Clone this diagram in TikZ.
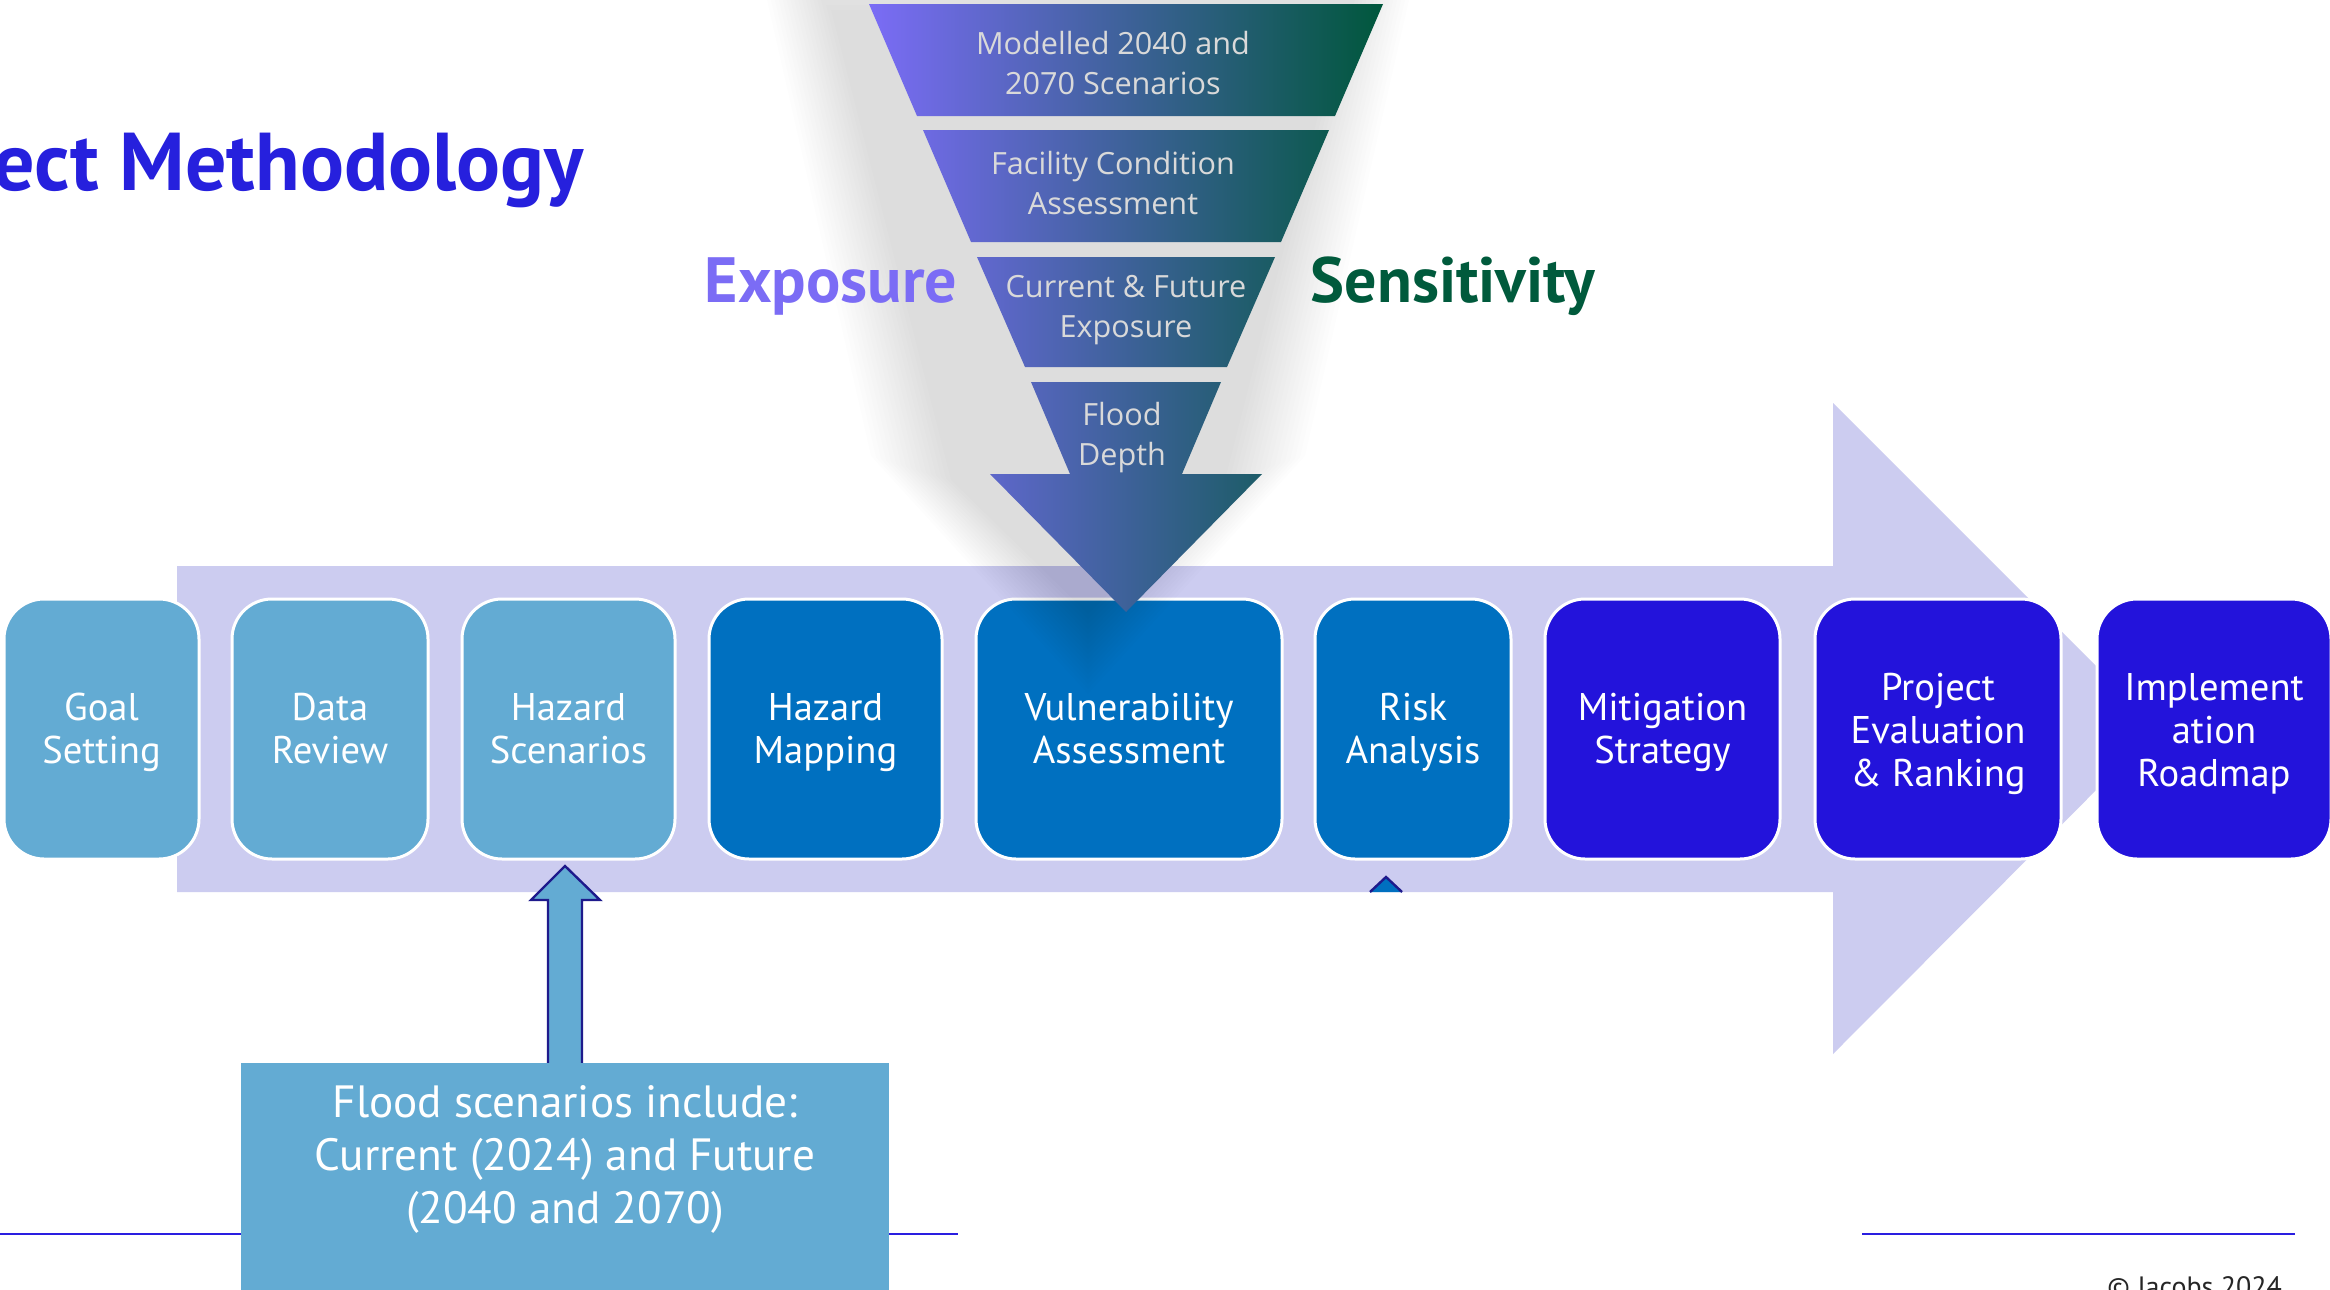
\documentclass[tikz,border=0pt]{standalone}
\usepackage{fontspec}
\setmainfont{PT Sans}
\newfontfamily\funnelfont{Open Sans}
\definecolor{lb}{HTML}{63ABD3}
\definecolor{mb}{HTML}{0070C0}
\definecolor{db}{HTML}{2313DB}
\definecolor{bandc}{HTML}{CCCCF0}
\definecolor{titleblue}{HTML}{2620DD}
\definecolor{expo}{HTML}{7B6CF5}
\definecolor{sens}{HTML}{005A3C}
\definecolor{fl}{HTML}{7B6CF6}
\definecolor{fr}{HTML}{00573C}
\definecolor{ftext}{HTML}{D9D9D9}
\definecolor{navy}{HTML}{1E1A8C}
\definecolor{rulec}{HTML}{2A1EE0}
\begin{document}
\begin{tikzpicture}[x=0.5pt,y=-0.5pt,
  stepbox/.style={draw=white, line width=1.5pt, rounded corners=20pt, inner sep=0pt, minimum height=130pt},
  steptext/.style={text=white, align=center, font=\fontsize{19.3}{21.5}\selectfont, inner sep=0pt},
  funneltext/.style={text=ftext, align=center, font=\funnelfont\fontsize{15.3}{20}\selectfont, inner sep=0pt},
  sidelabel/.style={font=\bfseries\fontsize{32}{34}\selectfont, inner sep=0pt},
  rulestyle/.style={draw=rulec, line width=1pt},
  calloutarrow/.style={fill=lb, draw=navy, line width=1.2pt, line join=miter}
]
\clip (0,0) rectangle (2330,1290);
\fill[white] (0,0) rectangle (2330,1290);

% title
\node[anchor=base west, inner sep=0pt, text=titleblue, font=\bfseries\fontsize{41}{43}\selectfont] (title) at (-7,190) {ect Methodology};

% rules
\draw[rulestyle] (0,1234) -- (958,1234);
\draw[rulestyle] (1862,1234) -- (2295,1234);

% big band arrow
\fill[bandc] (177,566) -- (1833,566) -- (1833,403) -- (2158,728) -- (1833,1054) -- (1833,892) -- (177,892) -- cycle;

% step boxes
\node[stepbox, fill=lb, minimum width=97.5pt] (goal) at (101.5,729) {};
\node[stepbox, fill=lb, minimum width=98pt] (data) at (330,729) {};
\node[stepbox, fill=lb, minimum width=106.5pt] (hscen) at (568.5,729) {};
\node[stepbox, fill=mb, minimum width=116.5pt] (hmap) at (825.5,729) {};
\node[stepbox, fill=mb, minimum width=153pt] (vuln) at (1129,729) {};
\node[stepbox, fill=mb, minimum width=98pt] (risk) at (1413,729) {};
\node[stepbox, fill=db, minimum width=117.5pt] (mitig) at (1662.5,729) {};
\node[stepbox, fill=db, minimum width=123pt] (proj) at (1938,729) {};
\node[stepbox, fill=db, minimum width=117pt] (impl) at (2214,729) {};

\node[steptext] (goal-t) at ([yshift=-2.25pt]goal.center) {\strut Goal\\Setting\strut};
\node[steptext] (data-t) at ([yshift=-2.25pt]data.center) {\strut Data\\Review\strut};
\node[steptext] (hscen-t) at ([yshift=-2.25pt]hscen.center) {\strut Hazard\\Scenarios\strut};
\node[steptext] (hmap-t) at ([yshift=-2.25pt]hmap.center) {\strut Hazard\\Mapping\strut};
\node[steptext] (vuln-t) at ([yshift=-2.25pt]vuln.center) {\strut Vulnerability\\Assessment\strut};
\node[steptext] (risk-t) at ([yshift=-2.25pt]risk.center) {\strut Risk\\Analysis\strut};
\node[steptext] (mitig-t) at ([yshift=-2.25pt]mitig.center) {\strut Mitigation\\Strategy\strut};
\node[steptext] (proj-t) at ([yshift=-3pt]proj.center) {\strut Project\\Evaluation\\\& Ranking\strut};
\node[steptext] (impl-t) at ([yshift=-3pt]impl.center) {\strut Implement\\ation\\Roadmap\strut};

% small arrow head under Risk Analysis
\fill[mb] (1370,892) -- (1386,877) -- (1402,892) -- cycle;
\draw[navy, line width=1.2pt] (1370,892) -- (1386,877) -- (1402,892);

% callout arrow and box
\coordinate (tip) at (565,866);
\draw[calloutarrow] (548,1070) -- (548,900) -- (531,900) -- (tip) -- (600,900) -- (582,900) -- (582,1070);
\node[fill=lb, minimum width=324pt, minimum height=130pt, anchor=north west, inner sep=0pt] (callbox) at (241,1063) {};
\node[text=white, align=center, font=\fontsize{22.6}{26.5}\selectfont, inner sep=0pt] (calltext) at (565,1159)
  {Flood scenarios include:\\Current (2024) and Future\\(2040 and 2070)};

% shadow of funnel
\foreach \r in {0,5,...,80}{
  \fill[black, opacity=0.0085]
    ({1088-257-\r},{10-\r}) -- ({1088+257+\r},{10-\r}) --
    ({1088+137+\r},{480-0.3*\r}) -- (1088,{614+\r}) -- ({1088-137-\r},{480-0.3*\r}) -- cycle;
}

% funnel
\shade[left color=fl, right color=fr]
  (869,4) -- (1383,4) -- (1335,116) -- (917,116) -- cycle
  (923,130) -- (1329,130) -- (1281,242) -- (971,242) -- cycle
  (977,257) -- (1275,257) -- (1227,367) -- (1025,367) -- cycle
  (1031,382) -- (1221,382) -- (1182,474) -- (1262,474) -- (1126,612) -- (990,474) -- (1070,474) -- cycle;

\node[funneltext] (f1) at (1113,63) {Modelled 2040 and\\2070 Scenarios};
\node[funneltext] (f2) at (1113,183) {Facility Condition\\Assessment};
\node[funneltext] (f3) at (1126,310) {Current \& Future\\Exposure};
\node[funneltext] (f4) at (1122,438) {Flood\\Depth};

\node[sidelabel, text=expo] (expo) at (831,286) {Exposure};
\node[sidelabel, text=sens] (sens) at (1453,286) {Sensitivity};

% copyright
\node[anchor=north west, inner sep=0pt, font=\fontsize{14}{16}\selectfont, text=black!85] (copy) at (2107,1276) {© Jacobs 2024};
\end{tikzpicture}
\end{document}
